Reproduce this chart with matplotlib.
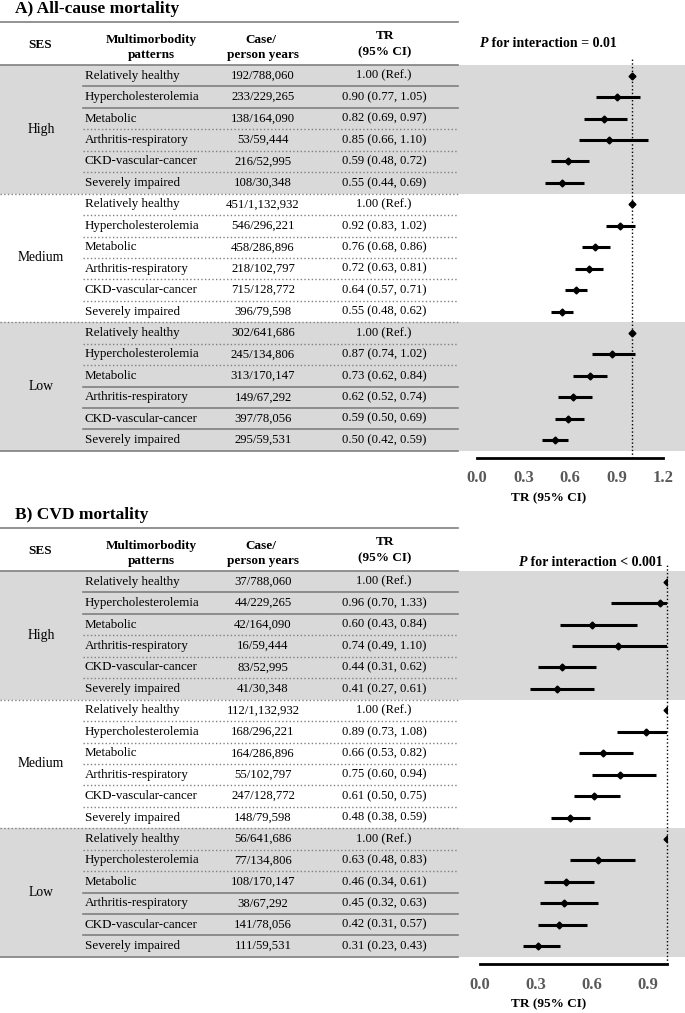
import numpy as np
import matplotlib
matplotlib.use("Agg")
import matplotlib.pyplot as plt

plt.rcParams['font.family'] = ['Liberation Serif', 'DejaVu Serif']

# data
ses_groups = ["High", "Medium", "Low"]
patterns = ["Relatively healthy", "Hypercholesterolemia", "Metabolic",
            "Arthritis-respiratory", "CKD-vascular-cancer", "Severely impaired"]

cases_a = ["192/788,060", "233/229,265", "138/164,090", "53/59,444", "216/52,995", "108/30,348",
           "451/1,132,932", "546/296,221", "458/286,896", "218/102,797", "715/128,772", "396/79,598",
           "302/641,686", "245/134,806", "313/170,147", "149/67,292", "397/78,056", "295/59,531"]
tr_a = [1.00, 0.90, 0.82, 0.85, 0.59, 0.55,
        1.00, 0.92, 0.76, 0.72, 0.64, 0.55,
        1.00, 0.87, 0.73, 0.62, 0.59, 0.50]
lo_a = [1.00, 0.77, 0.69, 0.66, 0.48, 0.44,
        1.00, 0.83, 0.68, 0.63, 0.57, 0.48,
        1.00, 0.74, 0.62, 0.52, 0.50, 0.42]
hi_a = [1.00, 1.05, 0.97, 1.10, 0.72, 0.69,
        1.00, 1.02, 0.86, 0.81, 0.71, 0.62,
        1.00, 1.02, 0.84, 0.74, 0.69, 0.59]

cases_b = ["37/788,060", "44/229,265", "42/164,090", "16/59,444", "83/52,995", "41/30,348",
           "112/1,132,932", "168/296,221", "164/286,896", "55/102,797", "247/128,772", "148/79,598",
           "56/641,686", "77/134,806", "108/170,147", "38/67,292", "141/78,056", "111/59,531"]
tr_b = [1.00, 0.96, 0.60, 0.74, 0.44, 0.41,
        1.00, 0.89, 0.66, 0.75, 0.61, 0.48,
        1.00, 0.63, 0.46, 0.45, 0.42, 0.31]
lo_b = [1.00, 0.70, 0.43, 0.49, 0.31, 0.27,
        1.00, 0.73, 0.53, 0.60, 0.50, 0.38,
        1.00, 0.48, 0.34, 0.32, 0.31, 0.23]
hi_b = [1.00, 1.33, 0.84, 1.10, 0.62, 0.61,
        1.00, 1.08, 0.82, 0.94, 0.75, 0.59,
        1.00, 0.83, 0.61, 0.63, 0.57, 0.43]

ticks_a = [0.0, 0.3, 0.6, 0.9, 1.2]
ticks_b = [0.0, 0.3, 0.6, 0.9]

W, H = 685, 1013
ROW = 21.44
GREY = "#d9d9d9"
LINE = "#808080"
FS = 9.5      # header
BODY = 9.4    # table body

# separator style after each row inside a group
sep_styles = {"High": ["-", "-", ":", ":", ":"],
              "Medium": [":", ":", ":", ":", ":"],
              "Low": [":", ":", "-", "-", "-"]}

fig = plt.figure(figsize=(W / 100, H / 100), dpi=100)
ax0 = fig.add_axes([0, 0, 1, 1])
ax0.set_xlim(0, W)
ax0.set_ylim(H, 0)
ax0.axis("off")


def panel(oy, title, cases, tr, lo, hi, xmax, ticks, ptext, px, py, x0, x1):
    top = 22 + oy
    hb = 65 + oy
    bottom = hb + 18 * ROW

    ax0.text(15, 9 + oy, title, fontsize=12.5, fontweight="bold", va="center")
    ax0.plot([0, 458], [top, top], color=LINE, lw=1.2)
    ax0.plot([0, 458], [hb, hb], color=LINE, lw=1.2)
    ax0.plot([0, 458], [bottom, bottom], color=LINE, lw=1.2)

    ax0.text(40, 45 + oy, "SES", fontsize=FS, fontweight="bold", ha="center", va="center")
    ax0.text(151, 40 + oy, "Multimorbodity", fontsize=FS, fontweight="bold", ha="center", va="center")
    ax0.text(151, 55 + oy, "patterns", fontsize=FS, fontweight="bold", ha="center", va="center")
    ax0.text(261, 40 + oy, "Case/", fontsize=FS, fontweight="bold", ha="center", va="center")
    ax0.text(263, 55 + oy, "person years", fontsize=FS, fontweight="bold", ha="center", va="center")
    ax0.text(385, 36 + oy, "TR", fontsize=FS, fontweight="bold", ha="center", va="center")
    ax0.text(385, 52 + oy, "(95% CI)", fontsize=FS, fontweight="bold", ha="center", va="center")

    # P for interaction
    pt = ax0.text(px, py + oy, "P", fontsize=FS + 0.5, fontweight="bold", style="italic",
                  ha="left", va="center")
    ax0.annotate(ptext, xy=(1, 0), xycoords=pt, fontsize=FS + 0.5, fontweight="bold",
                 ha="left", va="bottom")

    for g, ses in enumerate(ses_groups):
        g_top = hb + g * 6 * ROW
        if ses != "Medium":
            ax0.fill_between([0, W], g_top, g_top + 6 * ROW, color=GREY, lw=0, zorder=0)
        ax0.text(41, g_top + 3 * ROW, ses, fontsize=BODY + 0.4, ha="center", va="center")
        if g > 0:
            ax0.plot([0, 458], [g_top, g_top], color=LINE, lw=1, ls=":")
        for r in range(6):
            i = g * 6 + r
            yc = g_top + (r + 0.5) * ROW
            ax0.text(85, yc, patterns[r], fontsize=BODY, va="center")
            ax0.text(263, yc, cases[i], fontsize=BODY - 0.2, ha="center", va="center")
            if r == 0:
                lab = "1.00 (Ref.)"
            else:
                lab = f"{tr[i]:.2f} ({lo[i]:.2f}, {hi[i]:.2f})"
            ax0.text(384, yc, lab, fontsize=BODY - 0.3, ha="center", va="center")
            if r < 5:
                ys = g_top + (r + 1) * ROW
                st = sep_styles[ses][r]
                ax0.plot([83, 458], [ys, ys], color=LINE, lw=1.2 if st == "-" else 1, ls=st)

    # forest plot
    ytop = 57 + oy
    ybot = 458 + oy
    ax = fig.add_axes([x0 / W, 1 - ybot / H, (x1 - x0) / W, (ybot - ytop) / H])
    ax.patch.set_alpha(0)
    ax.set_xlim(0, xmax)
    ax.set_ylim((ybot - hb) / ROW - 0.5, (ytop - hb) / ROW - 0.5)
    rows = np.arange(18)
    ax.hlines(rows, lo, hi, color="black", lw=2.2)
    ax.plot(tr, rows, "D", color="black", ms=3.5)
    ax.axvline(1.0, color="black", ls=":", lw=1, clip_on=False)
    for s in ["top", "left", "right"]:
        ax.spines[s].set_visible(False)
    ax.spines["bottom"].set_linewidth(2)
    ax.set_yticks([])
    ax.set_xticks(ticks)
    ax.set_xticklabels([f"{t:.1f}" for t in ticks], fontsize=12, fontweight="bold",
                       color="#595959")
    ax.tick_params(axis="x", length=0, pad=9)

    ax0.text(549, 498 + oy, "TR (95% CI)", fontsize=FS, fontweight="bold", ha="center",
             va="center")


panel(0, "A) All-cause mortality", cases_a, tr_a, lo_a, hi_a, 1.2, ticks_a,
      " for interaction = 0.01", 480, 43, 477, 663)
panel(506, "B) CVD mortality", cases_b, tr_b, lo_b, hi_b, 1.0, ticks_b,
      " for interaction < 0.001", 519, 56, 480, 667)

fig.savefig("out.png", dpi=100)
